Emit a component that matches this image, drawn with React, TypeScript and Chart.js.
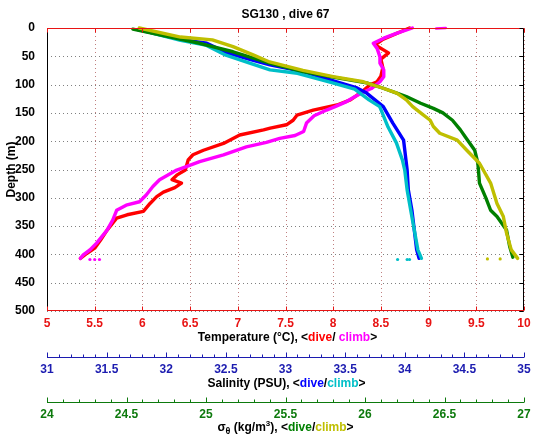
import { useEffect, useRef } from "react";
import { Chart, registerables } from "chart.js";

Chart.register(...registerables);

// ---------- data ----------
const chartTitle = "SG130 , dive 67";

// Temperature (°C), dive (red)
const depthTempDive = [0, 10, 20, 30, 44, 55, 70, 85, 95, 101, 110, 120, 127, 136, 145, 154, 163, 171, 177, 180, 189, 204, 216, 224, 233, 251, 260, 268, 274, 282, 290, 298, 310, 324, 330, 336, 357, 375, 389, 398, 407];
const tempDive = [8.8, 8.66, 8.52, 8.44, 8.58, 8.5, 8.52, 8.5, 8.46, 8.38, 8.32, 8.24, 8.18, 8.04, 7.79, 7.62, 7.58, 7.51, 7.34, 7.27, 7.02, 6.85, 6.64, 6.53, 6.48, 6.45, 6.36, 6.31, 6.41, 6.34, 6.22, 6.15, 6.08, 6.01, 5.84, 5.73, 5.63, 5.56, 5.5, 5.42, 5.35];

// Temperature (°C), climb (magenta)
const depthTempClimb = [0, 9, 18, 27, 36, 51, 62, 74, 86, 95, 107, 113, 121, 130, 139, 145, 155, 168, 183, 190, 195, 202, 210, 224, 236, 245, 251, 268, 280, 295, 307, 313, 322, 339, 357, 380, 392, 401, 407];
const tempClimb = [8.83, 8.67, 8.53, 8.42, 8.46, 8.49, 8.49, 8.53, 8.53, 8.49, 8.4, 8.32, 8.23, 8.14, 8.02, 7.93, 7.8, 7.72, 7.69, 7.6, 7.44, 7.3, 7.09, 6.85, 6.6, 6.46, 6.36, 6.18, 6.11, 6.04, 5.97, 5.83, 5.73, 5.69, 5.63, 5.52, 5.45, 5.38, 5.35];
const depthTempClimbTop = [1, 0.5, 0];
const tempClimbTop = [9.08, 9.13, 9.18];
const depthTempClimbExtra = [409, 409, 409];
const tempClimbExtra = [5.45, 5.5, 5.55];

// Salinity (PSU), dive (blue)
const depthSalDive = [3, 9, 20, 27, 44, 57, 65, 77, 95, 106, 115, 127, 139, 168, 198, 233, 251, 286, 322, 357, 392, 407];
const salDive = [31.76, 31.89, 32.12, 32.34, 32.51, 32.73, 32.87, 33.15, 33.43, 33.6, 33.68, 33.75, 33.82, 33.9, 33.99, 34.01, 34.02, 34.03, 34.06, 34.08, 34.1, 34.12];

// Salinity (PSU), climb (cyan)
const depthSalClimb = [2, 10, 22, 30, 48, 62, 74, 80, 96, 108, 127, 139, 175, 203, 233, 251, 286, 322, 357, 392, 407];
const salClimb = [31.78, 31.9, 32.12, 32.33, 32.5, 32.7, 32.87, 33.1, 33.38, 33.58, 33.7, 33.79, 33.86, 33.93, 33.98, 34.0, 34.02, 34.05, 34.08, 34.11, 34.14];
const depthSalClimbExtra = [409, 409, 409];
const salClimbExtra = [33.94, 34.02, 34.04];

// Sigma-theta (kg/m3), dive (green)
const depthSigDive = [2, 27, 42, 62, 77, 86, 97, 106, 115, 121, 133, 142, 150, 163, 180, 192, 216, 239, 274, 300, 322, 333, 357, 386, 405];
const sigDive = [24.54, 24.96, 25.17, 25.4, 25.61, 25.78, 26.01, 26.11, 26.2, 26.26, 26.35, 26.43, 26.49, 26.55, 26.6, 26.63, 26.69, 26.71, 26.72, 26.76, 26.79, 26.83, 26.89, 26.91, 26.93];

// Sigma-theta (kg/m3), climb (olive)
const depthSigClimb = [0, 16, 21, 33, 48, 60, 75, 86, 95, 106, 115, 127, 139, 150, 163, 174, 186, 198, 216, 239, 274, 310, 333, 362, 392, 407];
const sigClimb = [24.58, 24.84, 25.04, 25.17, 25.3, 25.4, 25.61, 25.8, 25.99, 26.11, 26.2, 26.26, 26.3, 26.35, 26.41, 26.43, 26.47, 26.58, 26.64, 26.72, 26.79, 26.83, 26.87, 26.89, 26.92, 26.96];
const depthSigClimbExtra = [408, 408];
const sigClimbExtra = [26.77, 26.85];

// axes
const depthMin = 0, depthMax = 500, depthStep = 50;
const tempMin = 5, tempMax = 10, tempStep = 0.5;
const salMin = 31, salMax = 35, salMinorStep = 0.1;
const sigMin = 24, sigMax = 27, sigMinorStep = 0.1;

// ---------- styles ----------
const FONT = "'Liberation Sans', Arial, Helvetica, sans-serif";
const C_RED = "#ff0000";
const C_MAG = "#ff00ff";
const C_BLUE = "#0000ff";
const C_CYAN = "#00bfc8";
const C_GREEN = "#008000";
const C_OLIVE = "#bfbf00";
const AX_RED = "#e81414";
const AX_BLUE = "#1c1cb0";
const AX_GREEN = "#0d7a0d";

function pts(xs: number[], ys: number[]) {
  return xs.map((x, i) => ({ x, y: ys[i] }));
}

function isMajor(v: number) {
  return Math.abs(v * 2 - Math.round(v * 2)) < 1e-6;
}

function fmtHalf(v: any) {
  return String(Math.round(Number(v) * 2) / 2);
}

type Seg = { t: string; c: string; size?: number; dy?: number };

function drawSegs(ctx: CanvasRenderingContext2D, segs: Seg[], cx: number, baseline: number) {
  const widths = segs.map((s) => {
    ctx.font = `bold ${s.size || 12}px ${FONT}`;
    return ctx.measureText(s.t).width;
  });
  const total = widths.reduce((a, b) => a + b, 0);
  let x = cx - total / 2;
  ctx.textAlign = "left";
  ctx.textBaseline = "alphabetic";
  segs.forEach((s, i) => {
    ctx.font = `bold ${s.size || 12}px ${FONT}`;
    ctx.fillStyle = s.c;
    ctx.fillText(s.t, x, baseline + (s.dy || 0));
    x += widths[i];
  });
}

const customAxes = {
  id: "customAxes",
  beforeDatasetsDraw(chart: any) {
    const ctx: CanvasRenderingContext2D = chart.ctx;
    const ca = chart.chartArea;
    const xs = chart.scales.x;
    const ys = chart.scales.y;
    ctx.save();
    ctx.lineWidth = 1;
    ctx.setLineDash([1, 3]);
    ctx.strokeStyle = "#c08080";
    xs.ticks.forEach((t: any) => {
      const px = Math.round(xs.getPixelForValue(t.value)) + 0.5;
      ctx.beginPath();
      ctx.moveTo(px, ca.top);
      ctx.lineTo(px, ca.bottom);
      ctx.stroke();
    });
    ctx.strokeStyle = "#808080";
    ys.ticks.forEach((t: any) => {
      const py = Math.round(ys.getPixelForValue(t.value)) + 0.5;
      ctx.beginPath();
      ctx.moveTo(ca.left, py);
      ctx.lineTo(ca.right, py);
      ctx.stroke();
    });
    ctx.restore();
  },
  afterDraw(chart: any) {
    const ctx: CanvasRenderingContext2D = chart.ctx;
    const ca = chart.chartArea;
    const xs = chart.scales.x;
    const ys = chart.scales.y;
    const l = Math.round(ca.left) + 0.5;
    const r = Math.round(ca.right) - 0.5;
    const t = Math.round(ca.top) + 0.5;
    const b = Math.round(ca.bottom) - 0.5;
    ctx.save();
    ctx.setLineDash([]);
    ctx.lineWidth = 1;
    // box
    ctx.strokeStyle = "#000";
    ctx.beginPath();
    ctx.moveTo(l, t); ctx.lineTo(l, b);
    ctx.moveTo(r, t); ctx.lineTo(r, b);
    ctx.stroke();
    ctx.strokeStyle = AX_RED;
    ctx.beginPath();
    ctx.moveTo(l - 0.5, t); ctx.lineTo(r + 0.5, t);
    ctx.moveTo(l - 0.5, b); ctx.lineTo(r + 0.5, b);
    ctx.stroke();
    // temperature ticks (top & bottom)
    ctx.beginPath();
    xs.ticks.forEach((tk: any) => {
      const px = Math.round(xs.getPixelForValue(tk.value)) + 0.5;
      ctx.moveTo(px, t); ctx.lineTo(px, t + 4);
      ctx.moveTo(px, b); ctx.lineTo(px, b - 4);
    });
    ctx.stroke();
    // depth ticks (right side, inward)
    ctx.strokeStyle = "#000";
    ctx.beginPath();
    ys.ticks.forEach((tk: any) => {
      const py = Math.round(ys.getPixelForValue(tk.value)) + 0.5;
      ctx.moveTo(r, py); ctx.lineTo(r - 4, py);
    });
    ctx.stroke();

    // lower axes (salinity, sigma)
    const lower: [string, string][] = [["xS", AX_BLUE], ["xD", AX_GREEN]];
    lower.forEach(([id, col]) => {
      const s = chart.scales[id];
      const y = Math.round(s.top) + 0.5;
      ctx.strokeStyle = col;
      ctx.beginPath();
      ctx.moveTo(ca.left, y);
      ctx.lineTo(ca.right, y);
      s.ticks.forEach((tk: any) => {
        const px = Math.round(s.getPixelForValue(tk.value)) + 0.5;
        const len = isMajor(tk.value) ? 5 : 3;
        ctx.moveTo(px, y);
        ctx.lineTo(px, y - len);
      });
      ctx.stroke();
    });

    // axis titles
    const cx = (ca.left + ca.right) / 2;
    const k = "#000";
    drawSegs(ctx, [
      { t: "Temperature (°C), <", c: k },
      { t: "dive", c: C_RED },
      { t: "/ ", c: k },
      { t: "climb", c: C_MAG },
      { t: ">", c: k },
    ], cx + 2, Math.round(ca.bottom) + 29.5);
    drawSegs(ctx, [
      { t: "Salinity (PSU), <", c: k },
      { t: "dive", c: C_BLUE },
      { t: "/", c: k },
      { t: "climb", c: C_CYAN },
      { t: ">", c: k },
    ], cx + 1, Math.round(chart.scales.xS.top) + 30);
    drawSegs(ctx, [
      { t: "σ", c: k },
      { t: "θ", c: k, size: 9, dy: 3 },
      { t: " (kg/m", c: k },
      { t: "3", c: k, size: 8, dy: -5 },
      { t: "), <", c: k },
      { t: "dive", c: C_GREEN },
      { t: "/", c: k },
      { t: "climb", c: C_OLIVE },
      { t: ">", c: k },
    ], cx, Math.round(chart.scales.xD.top) + 28.5);
    ctx.restore();
  },
};

export default function App() {
  const ref = useRef<HTMLCanvasElement>(null);
  useEffect(() => {
    Chart.defaults.font.family = FONT;
    const tickFont = { family: FONT, size: 12, weight: "bold" as const };
    const line = (label: string, data: any[], color: string, xAxisID: string, order: number, w = 3.4) => ({
      label,
      data,
      xAxisID,
      yAxisID: "y",
      borderColor: color,
      backgroundColor: color,
      borderWidth: w,
      pointRadius: 0,
      showLine: true,
      tension: 0,
      borderJoinStyle: "round" as const,
      borderCapStyle: "round" as const,
      clip: false as const,
      order,
    });
    const dots = (label: string, data: any[], color: string, xAxisID: string, order: number) => ({
      label,
      data,
      xAxisID,
      yAxisID: "y",
      borderColor: color,
      backgroundColor: color,
      borderWidth: 0,
      pointRadius: 1.6,
      pointBorderWidth: 0,
      showLine: false,
      clip: false as const,
      order,
    });
    const chart = new Chart(ref.current!, {
      type: "scatter",
      data: {
        datasets: [
          line("T dive", pts(tempDive, depthTempDive), C_RED, "x", 10),
          line("T climb", pts(tempClimb, depthTempClimb), C_MAG, "x", 9),
          line("T climb top", pts(tempClimbTop, depthTempClimbTop), C_MAG, "x", 8, 2.5),
          dots("T climb extra", pts(tempClimbExtra, depthTempClimbExtra), C_MAG, "x", 7),
          line("S dive", pts(salDive, depthSalDive), C_BLUE, "xS", 6),
          line("S climb", pts(salClimb, depthSalClimb), C_CYAN, "xS", 5),
          dots("S climb extra", pts(salClimbExtra, depthSalClimbExtra), C_CYAN, "xS", 4),
          line("Sig dive", pts(sigDive, depthSigDive), C_GREEN, "xD", 3),
          line("Sig climb", pts(sigClimb, depthSigClimb), C_OLIVE, "xD", 2),
          dots("Sig climb extra", pts(sigClimbExtra, depthSigClimbExtra), C_OLIVE, "xD", 1),
        ],
      },
      options: {
        responsive: false,
        animation: false,
        events: [],
        layout: { padding: { top: 0, right: 11, bottom: 0, left: 0 } },
        plugins: {
          legend: { display: false },
          tooltip: { enabled: false },
          title: {
            display: true,
            text: chartTitle,
            fullSize: false,
            color: "#000",
            font: { family: FONT, size: 12, weight: "bold" },
            padding: { top: 7, bottom: 6.6 },
          },
        },
        scales: {
          y: {
            type: "linear",
            position: "left",
            reverse: true,
            min: depthMin,
            max: depthMax,
            grid: { display: false },
            border: { display: false },
            ticks: { stepSize: depthStep, color: "#000", font: tickFont, padding: 4 },
            title: {
              display: true,
              text: "Depth (m)",
              color: "#000",
              font: { family: FONT, size: 12, weight: "bold" },
              padding: { top: 4, bottom: 0 },
            },
            afterFit: (s: any) => { s.width = 47; },
          },
          x: {
            type: "linear",
            position: "bottom",
            weight: 0,
            min: tempMin,
            max: tempMax,
            grid: { display: false },
            border: { display: false },
            ticks: {
              stepSize: tempStep,
              color: AX_RED,
              font: tickFont,
              padding: -3,
              maxRotation: 0,
              minRotation: 0,
              autoSkip: false,
              callback: (v: any) => fmtHalf(v),
            },
            afterFit: (s: any) => { s.height = 46; },
          },
          xS: {
            type: "linear",
            position: "bottom",
            weight: 1,
            min: salMin,
            max: salMax,
            grid: { display: false },
            border: { display: false },
            ticks: {
              stepSize: salMinorStep,
              color: AX_BLUE,
              font: tickFont,
              padding: -3,
              maxRotation: 0,
              minRotation: 0,
              autoSkip: false,
              callback: (v: any) => (isMajor(Number(v)) ? fmtHalf(v) : ""),
            },
            afterFit: (s: any) => { s.height = 45; },
          },
          xD: {
            type: "linear",
            position: "bottom",
            weight: 2,
            min: sigMin,
            max: sigMax,
            grid: { display: false },
            border: { display: false },
            ticks: {
              stepSize: sigMinorStep,
              color: AX_GREEN,
              font: tickFont,
              padding: -3,
              maxRotation: 0,
              minRotation: 0,
              autoSkip: false,
              callback: (v: any) => (isMajor(Number(v)) ? fmtHalf(v) : ""),
            },
            afterFit: (s: any) => { s.height = 40; },
          },
        },
      } as any,
      plugins: [customAxes],
    });
    return () => chart.destroy();
  }, []);
  return (
    <div style={{ position: "fixed", left: 0, top: 0, width: 535, height: 442, background: "#fff" }}>
      <canvas ref={ref} width={535} height={442} style={{ display: "block" }} />
    </div>
  );
}
